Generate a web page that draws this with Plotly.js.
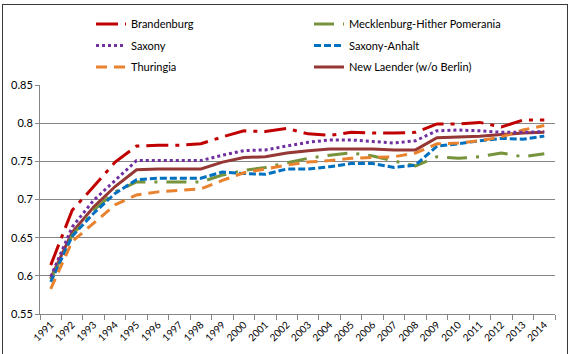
<!DOCTYPE html>
<html>
<head>
<meta charset="utf-8">
<script src="https://cdn.plot.ly/plotly-3.0.1.min.js"></script>
<style>
  html, body { margin: 0; padding: 0; background: #fff; overflow: hidden; }
  #wrap { position: relative; width: 573px; height: 354px; }
  #chart { width: 573px; height: 354px; }
  /* chart-area frame */
  #frame { position: absolute; left: 2px; top: 4px; width: 564px; height: 360px;
           border: 1px solid #3a3a3a; pointer-events: none; }
</style>
</head>
<body>
<div id="wrap">
  <div id="chart"></div>
  <div id="frame"></div>
</div>
<script>
// Years on the category axis
const years = ["1991","1992","1993","1994","1995","1996","1997","1998","1999","2000","2001","2002",
               "2003","2004","2005","2006","2007","2008","2009","2010","2011","2012","2013","2014"];

// Index values per state
const brandenburg = [0.614,0.686,0.717,0.749,0.770,0.771,0.771,0.773,0.782,0.790,0.789,0.793,
                     0.786,0.784,0.788,0.787,0.787,0.788,0.799,0.799,0.801,0.795,0.804,0.804];
const mecklenburg = [0.595,0.653,0.686,0.710,0.723,0.723,0.723,0.723,0.732,0.738,0.742,0.748,
                     0.754,0.758,0.761,0.757,0.750,0.744,0.756,0.754,0.756,0.761,0.756,0.760];
const saxony      = [0.599,0.664,0.699,0.725,0.751,0.751,0.751,0.751,0.758,0.764,0.765,0.770,
                     0.775,0.778,0.778,0.776,0.774,0.777,0.790,0.791,0.790,0.788,0.788,0.789];
const saxonyAnhalt= [0.592,0.652,0.682,0.708,0.726,0.728,0.728,0.728,0.736,0.734,0.733,0.740,
                     0.740,0.743,0.747,0.747,0.742,0.745,0.770,0.773,0.777,0.780,0.779,0.783];
const thuringia   = [0.583,0.645,0.669,0.693,0.706,0.710,0.712,0.714,0.725,0.735,0.740,0.745,
                     0.749,0.751,0.754,0.755,0.756,0.761,0.773,0.774,0.777,0.782,0.791,0.797];
const newLaender  = [0.597,0.657,0.690,0.717,0.739,0.740,0.740,0.740,0.749,0.755,0.756,0.761,
                     0.764,0.766,0.766,0.766,0.765,0.765,0.781,0.782,0.783,0.785,0.787,0.788];

const seriesNames = ["Brandenburg","Mecklenburg-Hither Pomerania","Saxony","Saxony-Anhalt",
                     "Thuringia","New Laender (w/o Berlin)"];

const FONT = "Lato, 'Open Sans', 'DejaVu Sans', sans-serif";

function line(name, y, color, dash, legend) {
  return {
    type: "scatter", mode: "lines", name: name, x: years, y: y,
    line: { color: color, width: 3, dash: dash },
    legend: legend, hoverinfo: "x+y+name"
  };
}

const traces = [
  line(seriesNames[0], brandenburg, "#C00000", "22px,7px,4px,7px", "legend"),
  line(seriesNames[1], mecklenburg, "#77933C", "20px,9px,3px,9px", "legend2"),
  line(seriesNames[2], saxony,      "#7030A0", "3px,3px",          "legend3"),
  line(seriesNames[3], saxonyAnhalt,"#0070C0", "7px,3px",          "legend4"),
  line(seriesNames[4], thuringia,   "#E8822E", "11px,7px",         "legend5"),
  line(seriesNames[5], newLaender,  "#953735", "solid",            "legend6")
];
// stacking order of the lines on the plot
const order = [5, 1, 3, 4, 2, 0].map(i => traces[i]);

// one legend box per entry, laid out as two columns by three rows
function legendBox(xPx, yPx) {
  return {
    xref: "container", yref: "container",
    x: xPx / 573, xanchor: "left", y: 1 - yPx / 354, yanchor: "middle",
    font: { family: FONT, size: 11, color: "#000" }, bgcolor: "rgba(0,0,0,0)",
    borderwidth: 0
  };
}

const layout = {
  width: 573, height: 354,
  margin: { l: 40, r: 18, t: 85, b: 40, pad: 0, autoexpand: false },
  paper_bgcolor: "#fff", plot_bgcolor: "#fff",
  font: { family: FONT, size: 11, color: "#000" },
  showlegend: true,
  legend:  legendBox(91, 24),
  legend2: legendBox(309, 24),
  legend3: legendBox(91, 45.5),
  legend4: legendBox(309, 45.5),
  legend5: legendBox(91, 67),
  legend6: legendBox(309, 67),
  xaxis: {
    type: "category", tickson: "boundaries", ticks: "outside", ticklen: 5,
    tickcolor: "#868686", tickwidth: 1,
    showline: true, linecolor: "#868686", linewidth: 1,
    showgrid: false, tickangle: -45, tickfont: { size: 10, family: FONT },
    range: [-0.5, 23.5], fixedrange: true
  },
  yaxis: {
    range: [0.55, 0.85], dtick: 0.05, tick0: 0.55,
    ticks: "outside", ticklen: 4, tickcolor: "#868686",
    showline: true, linecolor: "#868686", linewidth: 1,
    showgrid: true, gridcolor: "#868686", gridwidth: 1,
    zeroline: false, tickfont: { size: 11, family: FONT }, fixedrange: true
  }
};

Plotly.newPlot("chart", order, layout, { staticPlot: true, displayModeBar: false });
</script>
</body>
</html>
